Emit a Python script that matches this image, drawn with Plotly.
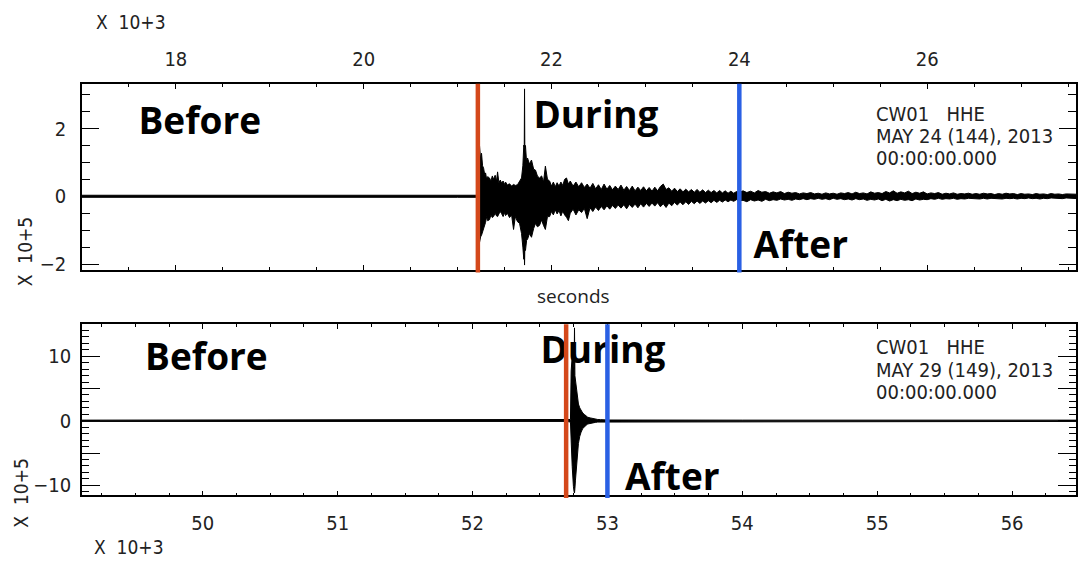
import plotly.graph_objects as go

# ---- Record 1: CW01 HHE, 24 May 2013 (time in 10^3 s, amplitude envelope in 10^5 counts)
t_may24 = [17.00, 18.00, 19.00, 20.00, 21.00, 21.205,
           21.215, 21.225, 21.234, 21.245, 21.255, 21.266, 21.277, 21.290, 21.298, 21.310,
           21.320, 21.340, 21.355, 21.370, 21.383, 21.400, 21.415, 21.426, 21.440, 21.455,
           21.468, 21.485, 21.500, 21.511, 21.530, 21.553, 21.575, 21.596, 21.615, 21.638,
           21.660, 21.681, 21.695, 21.705, 21.710, 21.713, 21.716, 21.723, 21.735, 21.745,
           21.765, 21.787, 21.810, 21.830, 21.850, 21.872, 21.895, 21.915, 21.935, 21.957,
           21.980, 22.000, 22.020, 22.040, 22.060, 22.080, 22.100, 22.120, 22.140, 22.160,
           22.180,
           22.20, 22.23, 22.26, 22.29, 22.32, 22.35, 22.38, 22.41, 22.44, 22.47,
           22.50, 22.53, 22.56, 22.59, 22.62, 22.65, 22.68, 22.71, 22.74, 22.77,
           22.80, 22.83, 22.86, 22.89, 22.92, 22.95, 22.98, 23.01, 23.04, 23.07,
           23.10, 23.13, 23.16, 23.19, 23.22, 23.25, 23.28, 23.31, 23.34, 23.37,
           23.40, 23.43, 23.46, 23.49, 23.52, 23.55, 23.58, 23.61, 23.64, 23.67,
           23.70, 23.73, 23.76, 23.79, 23.82, 23.85, 23.88, 23.91, 23.94, 23.97,
           24.00,
           24.04, 24.08, 24.12, 24.16, 24.20, 24.24, 24.28, 24.32, 24.36, 24.40,
           24.44, 24.48, 24.52, 24.56, 24.60, 24.64, 24.68, 24.72, 24.76, 24.80,
           24.84, 24.88, 24.92, 24.96, 25.00, 25.04, 25.08, 25.12, 25.16, 25.20,
           25.24, 25.28, 25.32, 25.36, 25.40, 25.44, 25.48, 25.52, 25.56, 25.60,
           25.64, 25.68, 25.72, 25.76, 25.80, 25.84, 25.88, 25.92, 25.96, 26.00,
           26.04, 26.08, 26.12, 26.16, 26.20, 26.24, 26.28, 26.32, 26.36, 26.40,
           26.44, 26.48, 26.52, 26.56, 26.60, 26.64, 26.68, 26.72, 26.76, 26.80,
           26.84, 26.88, 26.92, 26.96, 27.00, 27.04, 27.08, 27.12, 27.16, 27.20,
           27.24, 27.28, 27.32, 27.36, 27.40, 27.44, 27.48, 27.52, 27.56, 27.60]
up_may24 = [0.03, 0.03, 0.03, 0.03, 0.03, 0.03,
            0.40, 1.20, 1.48, 1.10, 1.27, 0.90, 0.83, 0.62, 0.69, 0.50,
            0.58, 0.54, 0.45, 0.60, 0.50, 0.62, 0.45, 0.72, 0.40, 0.48,
            0.39, 0.45, 0.35, 0.42, 0.33, 0.37, 0.30, 0.35, 0.32, 0.34,
            0.45, 0.54, 0.90, 1.51, 1.45, 3.17, 1.40, 1.50, 1.00, 1.13,
            0.95, 1.07, 0.80, 0.77, 0.60, 0.54, 0.60, 0.42, 0.89, 0.50,
            0.45, 0.30, 0.42, 0.28, 0.40, 0.30, 0.42, 0.32, 0.50, 0.54,
            0.36,
            0.45, 0.30, 0.42, 0.28, 0.40, 0.26, 0.36, 0.24, 0.38, 0.22,
            0.34, 0.20, 0.36, 0.21, 0.32, 0.19, 0.30, 0.20, 0.33, 0.18,
            0.29, 0.17, 0.30, 0.16, 0.27, 0.17, 0.28, 0.16, 0.26, 0.15,
            0.27, 0.16, 0.29, 0.36, 0.20, 0.25, 0.15, 0.24, 0.14, 0.22,
            0.13, 0.21, 0.13, 0.20, 0.12, 0.20, 0.12, 0.19, 0.11, 0.18,
            0.11, 0.17, 0.10, 0.17, 0.10, 0.16, 0.09, 0.15, 0.09, 0.14,
            0.12,
            0.16, 0.11, 0.15, 0.10, 0.17, 0.12, 0.14, 0.09, 0.13, 0.10,
            0.14, 0.08, 0.12, 0.09, 0.11, 0.07, 0.10, 0.08, 0.11, 0.07,
            0.09, 0.06, 0.10, 0.07, 0.09, 0.06, 0.10, 0.08, 0.11, 0.07,
            0.12, 0.08, 0.10, 0.07, 0.13, 0.09, 0.11, 0.08, 0.14, 0.10,
            0.16, 0.09, 0.13, 0.10, 0.15, 0.08, 0.12, 0.09, 0.13, 0.07,
            0.10, 0.08, 0.11, 0.06, 0.09, 0.07, 0.10, 0.06, 0.08, 0.07,
            0.09, 0.06, 0.08, 0.06, 0.09, 0.07, 0.08, 0.05, 0.08, 0.06,
            0.09, 0.07, 0.08, 0.05, 0.08, 0.06, 0.07, 0.05, 0.08, 0.06,
            0.07, 0.05, 0.08, 0.06, 0.07, 0.05, 0.07, 0.06, 0.07, 0.06]
lo_may24 = [-0.03, -0.03, -0.03, -0.03, -0.03, -0.03,
            -0.50, -1.00, -1.36, -1.20, -1.15, -1.05, -0.98, -0.85, -0.77, -0.60,
            -0.72, -0.69, -0.55, -0.63, -0.60, -0.50, -0.58, -0.60, -0.52, -0.45,
            -0.51, -0.60, -0.48, -0.57, -0.50, -0.63, -0.55, -0.98, -0.60, -0.75,
            -0.80, -1.10, -1.50, -1.86, -1.50, -2.03, -1.55, -1.60, -1.30, -1.27,
            -1.10, -1.21, -0.95, -0.80, -0.90, -0.86, -0.70, -0.86, -0.98, -0.60,
            -0.60, -0.45, -0.55, -0.40, -0.52, -0.42, -0.58, -0.44, -0.55, -0.62,
            -0.72,
            -0.50, -0.38, -0.55, -0.40, -0.48, -0.36, -0.66, -0.34, -0.45, -0.32,
            -0.42, -0.30, -0.40, -0.28, -0.38, -0.27, -0.36, -0.26, -0.35, -0.25,
            -0.37, -0.24, -0.33, -0.23, -0.34, -0.22, -0.32, -0.21, -0.30, -0.20,
            -0.29, -0.19, -0.31, -0.22, -0.33, -0.20, -0.28, -0.18, -0.26, -0.17,
            -0.25, -0.16, -0.24, -0.15, -0.22, -0.14, -0.21, -0.14, -0.20, -0.13,
            -0.19, -0.12, -0.18, -0.12, -0.17, -0.11, -0.16, -0.11, -0.15, -0.10,
            -0.13,
            -0.12, -0.16, -0.10, -0.14, -0.11, -0.15, -0.09, -0.13, -0.10, -0.12,
            -0.08, -0.11, -0.09, -0.12, -0.08, -0.10, -0.07, -0.10, -0.07, -0.09,
            -0.06, -0.09, -0.07, -0.10, -0.06, -0.09, -0.07, -0.10, -0.08, -0.11,
            -0.07, -0.10, -0.08, -0.12, -0.09, -0.11, -0.08, -0.13, -0.09, -0.14,
            -0.10, -0.13, -0.09, -0.12, -0.10, -0.13, -0.08, -0.11, -0.09, -0.10,
            -0.07, -0.09, -0.06, -0.09, -0.07, -0.08, -0.06, -0.09, -0.07, -0.08,
            -0.06, -0.08, -0.07, -0.08, -0.06, -0.08, -0.06, -0.08, -0.07, -0.08,
            -0.06, -0.07, -0.06, -0.08, -0.06, -0.07, -0.05, -0.07, -0.06, -0.08,
            -0.06, -0.07, -0.05, -0.07, -0.06, -0.07, -0.05, -0.07, -0.06, -0.07]

# ---- Record 2: CW01 HHE, 29 May 2013
t_may29 = [49.10, 50.00, 51.00, 52.00, 52.70, 52.726,
           52.731, 52.739, 52.744, 52.748, 52.753, 52.756, 52.759, 52.763, 52.773,
           52.785, 52.795, 52.805, 52.817, 52.830, 52.842, 52.854, 52.872, 52.891,
           52.910, 52.928, 52.950, 52.978, 53.010, 54.00, 55.00, 56.00, 56.50]
up_may29 = [0.10, 0.10, 0.10, 0.10, 0.10, 0.20,
            7.70, 10.00, 9.50, 9.20, 8.00, 14.40, 7.00, 6.20, 3.90,
            2.60, 2.00, 1.60, 1.20, 0.97, 0.75, 0.55, 0.45, 0.35,
            0.28, 0.20, 0.18, 0.15, 0.12, 0.10, 0.10, 0.10, 0.10]
lo_may29 = [-0.10, -0.10, -0.10, -0.10, -0.10, -0.20,
            -3.00, -7.10, -9.00, -10.20, -11.00, -11.20, -10.50, -9.20, -6.10,
            -3.50, -2.40, -1.75, -1.20, -0.90, -0.70, -0.50, -0.40, -0.30,
            -0.25, -0.20, -0.17, -0.15, -0.12, -0.10, -0.10, -0.10, -0.10]

# Phase boundaries (start of shaking, end of strong shaking), 10^3 s
bounds_may24 = [21.216, 24.0]
bounds_may29 = [52.694, 53.0]

phase_labels = ["Before", "During", "After"]
header_may24 = ["CW01\u00a0\u00a0\u00a0HHE", "MAY 24 (144), 2013", "00:00:00.000"]
header_may29 = ["CW01\u00a0\u00a0\u00a0HHE", "MAY 29 (149), 2013", "00:00:00.000"]

RED = "#d4481b"
BLUE = "#2a60e4"
SAC_FONT = "DejaVu Sans Condensed, Liberation Sans Narrow, Arial Narrow, sans-serif"
BOLD_FONT = "Open Sans, Noto Sans, sans-serif"

W, H = 1078, 563
XDOM = [82 / W, 1077 / W]
YDOM_TOP = [1 - 272.7 / H, 1 - 84.7 / H]
YDOM_BOT = [1 - 500.7 / H, 1 - 327.7 / H]

fig = go.Figure()


def band(t, up, lo, xa, ya):
    return go.Scatter(
        x=list(t) + list(t)[::-1], y=list(up) + list(lo)[::-1],
        fill="toself", fillcolor="black", mode="lines",
        line=dict(color="black", width=1), xaxis=xa, yaxis=ya,
        hoverinfo="skip", showlegend=False)


def phase_text(xs, ys, xa, ya):
    return go.Scatter(
        x=xs, y=ys, text=phase_labels, mode="text", textposition="middle center",
        textfont=dict(family=BOLD_FONT, size=37, color="black", weight="bold"),
        xaxis=xa, yaxis=ya, hoverinfo="skip", showlegend=False, cliponaxis=False)


# phase names sit beneath the waveform and the boundary lines
fig.add_trace(phase_text([18.255, 22.473, 24.654], [2.10, 2.29, -1.55], "x", "y"))
fig.add_trace(phase_text([50.027, 52.967, 53.481], [9.35, 10.45, -9.25], "x2", "y2"))

fig.add_trace(band(t_may24, up_may24, lo_may24, "x", "y"))
fig.add_trace(band(t_may29, up_may29, lo_may29, "x2", "y2"))

# boundary lines drawn on top of everything in the plot area
for (b0, b1), xr, yr in [(bounds_may24, "x", "y"), (bounds_may29, "x2", "y2")]:
    for xv, col in [(b0, RED), (b1, BLUE)]:
        fig.add_shape(type="line", xref=xr, yref=f"{yr} domain", x0=xv, x1=xv,
                      y0=-0.015, y1=1, line=dict(color=col, width=4.5), layer="above")

axis_common = dict(showline=True, linecolor="black", linewidth=1.5, mirror="ticks",
                   ticks="inside", tickcolor="black", tickwidth=1.3, showgrid=False,
                   zeroline=False, tickfont=dict(family=SAC_FONT, size=20, color="#222"))

fig.update_layout(
    width=W, height=H, margin=dict(l=0, r=0, t=0, b=0),
    paper_bgcolor="white", plot_bgcolor="white", showlegend=False,
    xaxis=dict(domain=XDOM, anchor="y", side="top", range=[17.0, 27.585],
               tick0=0, dtick=2, ticklen=5, ticklabelstandoff=8,
               minor=dict(dtick=0.5, tick0=0, ticklen=3, ticks="inside", tickcolor="black"),
               **axis_common),
    yaxis=dict(domain=YDOM_TOP, anchor="x", range=[-2.17, 3.32],
               tick0=0, dtick=2, ticklen=17, ticklabelstandoff=10,
               minor=dict(dtick=0.5, tick0=0, ticklen=8, ticks="inside", tickcolor="black"),
               **axis_common),
    xaxis2=dict(domain=XDOM, anchor="y2", side="bottom", range=[49.104, 56.474],
                tick0=0, dtick=1, ticklen=5, ticklabelstandoff=9,
                minor=dict(dtick=0.25, tick0=0, ticklen=3, ticks="inside", tickcolor="black"),
                **axis_common),
    yaxis2=dict(domain=YDOM_BOT, anchor="x2", range=[-11.56, 14.97],
                tickmode="array", tickvals=[-10, -5, 0, 5, 10],
                ticktext=["\u221210", "", "0", "", "10"], ticklen=18, ticklabelstandoff=5,
                minor=dict(dtick=1, tick0=0, ticklen=7, ticks="inside", tickcolor="black"),
                **axis_common),
)

ann = []
sac = dict(family=SAC_FONT, size=19, color="#222")
head = dict(family=SAC_FONT, size=20, color="#222")
for lines, ys in [(header_may24, [115, 137.5, 160]), (header_may29, [351, 373.5, 396])]:
    for txt, py in zip(lines, ys):
        ann.append(dict(text=txt, x=875 / W, y=1 - py / H, xref="paper", yref="paper",
                        xanchor="left", yanchor="middle", showarrow=False, font=head))
ann.append(dict(text="X\u00a0\u00a010+3", x=94 / W, y=1 - 22 / H, xref="paper", yref="paper",
                xanchor="left", yanchor="middle", showarrow=False, font=sac))
ann.append(dict(text="X\u00a0\u00a010+3", x=92 / W, y=1 - 553 / H, xref="paper", yref="paper",
                xanchor="left", yanchor="middle", showarrow=False, font=sac))
for px, py in [(25, 254), (21, 498)]:
    ann.append(dict(text="X\u00a0\u00a010+5", x=px / W, y=1 - py / H, xref="paper", yref="paper",
                    xanchor="center", yanchor="middle", textangle=-90, showarrow=False, font=sac))
ann.append(dict(text="seconds", x=574 / W, y=1 - 299 / H, xref="paper", yref="paper",
                xanchor="center", yanchor="middle", showarrow=False,
                font=dict(family="Open Sans, sans-serif", size=19, color="#222")))
fig.update_layout(annotations=ann)

fig.write_html("out.html")
